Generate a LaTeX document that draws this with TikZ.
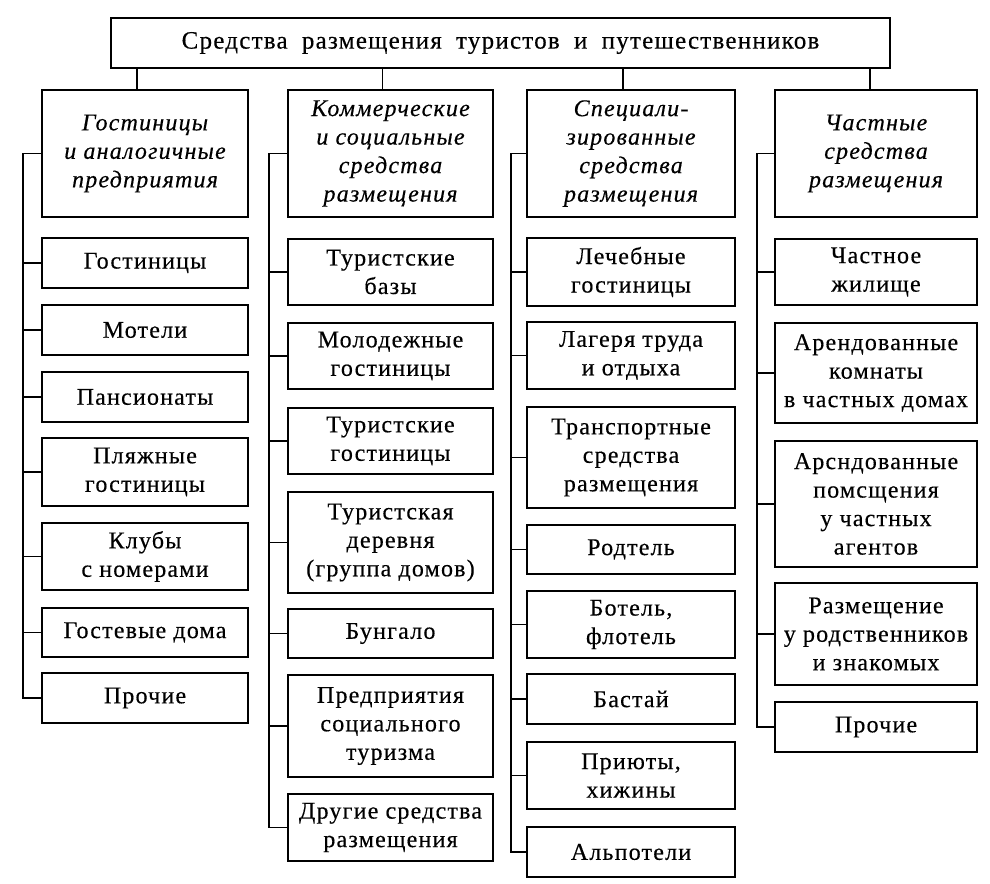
\documentclass[tikz,border=0pt]{standalone}
\usepackage{fontspec}
\setmainfont[LetterSpace=5,FakeBold=0.35]{Liberation Serif}
\newfontfamily\titlefam[LetterSpace=5,FakeBold=0.35,WordSpace=1.9]{Liberation Serif}
\newcommand\boxfont{\fontsize{24}{28.5}\selectfont}
\newcommand\titlefont{\titlefam\fontsize{25}{30}\selectfont}
\begin{document}
\begin{tikzpicture}[x=1pt,y=-1pt,
                    box/.style={draw,line width=2pt,align=center,inner sep=1pt,font=\boxfont},
                    head/.style={box,minimum height=127,font=\boxfont\itshape},
                    col a/.style={box,minimum width=206},
                    col b/.style={box,minimum width=205},
                    col c/.style={box,minimum width=208},
                    col d/.style={box,minimum width=202},
                    link/.style={line width=1.4pt}]
        \useasboundingbox (0,0) rectangle (990,883);

        % Define vertices
        \node[box,minimum width=779,minimum height=50,font=\titlefont] (R) at (500.5,43)
            {Средства размещения туристов и путешественников};

        \node[head,col a,font=\boxfont\itshape] (A) at (145,153.5) {Гостиницы\\и аналогичные\\предприятия};
        \node[head,col b,font=\boxfont\itshape] (B) at (390.5,153.5) {Коммерческие\\и социальные\\средства\\размещения};
        \node[head,col c,font=\boxfont\itshape] (C) at (631,153.5) {Специали-\\зированные\\средства\\размещения};
        \node[head,col d,font=\boxfont\itshape] (D) at (876,153.5) {Частные\\средства\\размещения};

        \node[col a,minimum height=50] (a1) at (145,263) {Гостиницы};
        \node[col a,minimum height=50] (a2) at (145,330) {Мотели};
        \node[col a,minimum height=50] (a3) at (145,397) {Пансионаты};
        \node[col a,minimum height=68] (a4) at (145,472) {Пляжные\\гостиницы};
        \node[col a,minimum height=67] (a5) at (145,556.5) {Клубы\\с номерами};
        \node[col a,minimum height=49] (a6) at (145,632.5) {Гостевые дома};
        \node[col a,minimum height=50] (a7) at (145,698) {Прочие};

        \node[col b,minimum height=66] (b1) at (390.5,272) {Туристские\\базы};
        \node[col b,minimum height=66] (b2) at (390.5,356) {Молодежные\\гостиницы};
        \node[col b,minimum height=66] (b3) at (390.5,441) {Туристские\\гостиницы};
        \node[col b,minimum height=101] (b4) at (390.5,542.5) {Туристская\\деревня\\(группа домов)};
        \node[col b,minimum height=49] (b5) at (390.5,633.5) {Бунгало};
        \node[col b,minimum height=102] (b6) at (390.5,726) {Предприятия\\социального\\туризма};
        \node[col b,minimum height=67] (b7) at (390.5,827.5) {Другие средства\\размещения};

        \node[col c,minimum height=68] (c1) at (631,272) {Лечебные\\гостиницы};
        \node[col c,minimum height=67] (c2) at (631,355.5) {Лагеря труда\\и отдыха};
        \node[col c,minimum height=101] (c3) at (631,457.5) {Транспортные\\средства\\размещения};
        \node[col c,minimum height=49] (c4) at (631,549.5) {Родтель};
        \node[col c,minimum height=67] (c5) at (631,624.5) {Ботель,\\флотель};
        \node[col c,minimum height=50] (c6) at (631,699) {Бастай};
        \node[col c,minimum height=67] (c7) at (631,775.5) {Приюты,\\хижины};
        \node[col c,minimum height=50] (c8) at (631,852) {Альпотели};

        \node[col d,minimum height=66] (d1) at (876,272) {Частное\\жилище};
        \node[col d,minimum height=100] (d2) at (876,373) {Арендованные\\комнаты\\в частных домах};
        \node[col d,minimum height=126] (d3) at (876,504) {Арсндованные\\помсщения\\у частных\\агентов};
        \node[col d,minimum height=102] (d4) at (876,634) {Размещение\\у родственников\\и знакомых};
        \node[col d,minimum height=50] (d5) at (876,727) {Прочие};

        % Draw edges
        \draw[link]
            ([xshift=-8]A.north) -- ([xshift=-8]A.north |- R.south)
            ([xshift=-8]B.north) -- ([xshift=-8]B.north |- R.south)
            ([xshift=-8]C.north) -- ([xshift=-8]C.north |- R.south)
            ([xshift=-6]D.north) -- ([xshift=-6]D.north |- R.south);

        \draw[link]
            (A.west) -- ++(-18,0) |- (a7.west)
            (a1.west) -- ++(-18,0) (a2.west) -- ++(-18,0)
            (a3.west) -- ++(-18,0) (a4.west) -- ++(-18,0)
            (a5.west) -- ++(-18,0) (a6.west) -- ++(-18,0);

        \draw[link]
            (B.west) -- ++(-18,0) |- (b7.west)
            (b1.west) -- ++(-18,0) (b2.west) -- ++(-18,0)
            (b3.west) -- ++(-18,0) (b4.west) -- ++(-18,0)
            (b5.west) -- ++(-18,0) (b6.west) -- ++(-18,0);

        \draw[link]
            (C.west) -- ++(-15,0) |- (c8.west)
            (c1.west) -- ++(-15,0) (c2.west) -- ++(-15,0)
            (c3.west) -- ++(-15,0) (c4.west) -- ++(-15,0)
            (c5.west) -- ++(-15,0) (c6.west) -- ++(-15,0)
            (c7.west) -- ++(-15,0);

        \draw[link]
            (D.west) -- ++(-17,0) |- (d5.west)
            (d1.west) -- ++(-17,0) (d2.west) -- ++(-17,0)
            (d3.west) -- ++(-17,0) (d4.west) -- ++(-17,0);

        \end{tikzpicture}
\end{document}
